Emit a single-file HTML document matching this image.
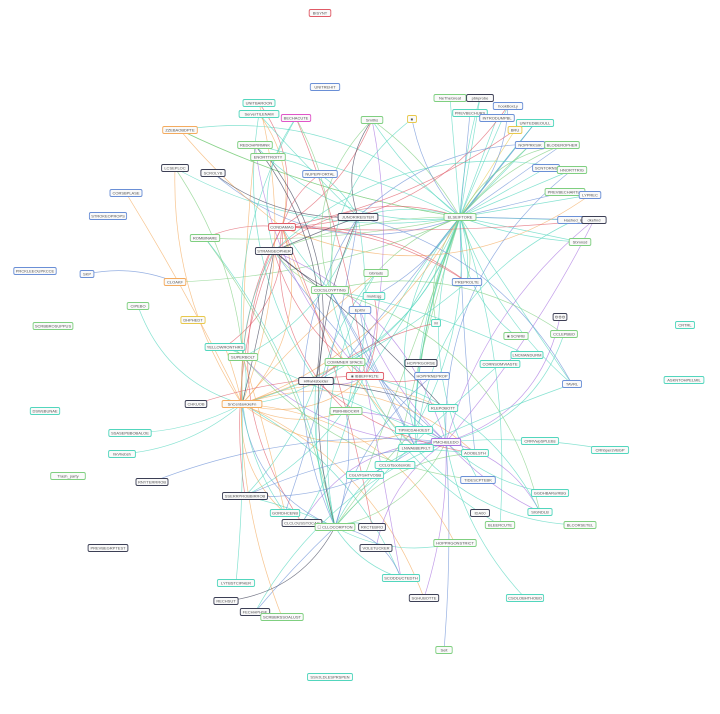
<!DOCTYPE html>
<html><head><meta charset="utf-8"><style>
html,body{margin:0;padding:0;background:#fff;}
svg{display:block;}
text{font-family:"Liberation Sans",sans-serif;font-size:4px;}
</style></head><body>
<svg id="s" width="720" height="714" viewBox="0 0 720 714" xmlns="http://www.w3.org/2000/svg">
<g id="e" fill="none" stroke-width="0.7" stroke-opacity="0.7"></g>
<g id="n"></g>
</svg>
<script>
var C={r:"#e05a66",t:"#52d6bd",g:"#7fcf80",o:"#f4ab5e",p:"#a873e0",b:"#6a8fd6",d:"#3c3f55",y:"#e8c84a",m:"#e055c8"};
var N=[
[320,13,"BISYNT","r"],[325,87,"UNITREHIT","b"],[259,103,"UNITBAROON","t"],[259,114,"ServerTILENAM","t"],[296,118,"BECHACUTE","m"],[372,120,"Smiths","g"],[412,119,"■","y"],[450,98,"NeTheGreat","g"],[480,98,"pbkprobe","d"],[470,113,"PREVBECHURS","t"],[497,118,"INTRODUMPBL","b"],[508,106,"hookBoxLy","b"],[535,123,"UNITEDBEOULL","t"],[515,130,"BRU","y"],[530,145,"NOPPRKSIK","b"],[562,145,"BLODEROPHER","g"],[546,168,"SCNTORNS","b"],[572,170,"HNORTTRIG","g"],[565,192,"PREVBECHARTLE","g"],[590,195,"LYPREC","b"],[575,220,"Hashed_lgtd","b"],[594,220,"dkefind","d"],[580,242,"Sbmnsd","g"],[460,217,"ELSEIFTORE","g"],
[180,130,"ZZEBAOBDPTE","o"],[255,145,"REDOHPIRMNK","g"],[268,157,"ENORTTROITY","g"],[320,174,"NUPEPFORTAL","b"],[213,173,"SCROLYB","d"],[175,168,"LCSEPLOC","d"],[126,193,"CORSBPLASE","b"],[108,216,"STROKEOPROPS","b"],[282,227,"CONDAMAG","r"],[358,217,"JUNORIREISTER","d"],[205,238,"ROMBINARE","g"],[274,251,"STRANGEOPHER","d"],[35,271,"PRCKLEEOUPKCCE","b"],[87,274,"SKP","b"],[175,282,"CLOAKF","o"],[330,290,"COCSLOYPTING","g"],[376,273,"Gbrlads","g"],[374,296,"mukEqg","t"],[360,310,"Epithr","b"],[467,282,"PREPROLTE","b"],[138,306,"CIPEBO","g"],[193,320,"DHPHEDT","y"],[53,326,"SCRBBROSUPPUS","g"],[436,323,"M","t"],[516,336,"■ SCNRB","g"],[560,317,"⚙⚙⚙","d"],[564,334,"CCLEPBBO","g"],[225,347,"YELLOWRONTHRS","t"],[243,357,"SUPERBOLT","g"],[345,362,"COMMNER SPACE","g"],[421,363,"HCPPRGORSE","d"],[500,364,"CORNSOMVIASTE","t"],[527,355,"LNCMANDURM","t"],[572,384,"TAVRL","b"],[685,325,"CRTRL","t"],[684,380,"ASKNTOHPELMIL","t"],[432,376,"HOPPRNEPROP","b"],[316,381,"HRwHsbelder","d"],[365,376,"■ IBBEFFRLTE","r"],[196,404,"CHKUOB","d"],[242,404,"SnCerdaHoleFn","o"],[346,411,"PBRHIBOCKR","g"],[443,408,"RLEPOBOTT","t"],[45,411,"DSWsBUNAE","t"],[130,433,"SSASEPBBOBALOE","t"],[122,454,"hkVhebsh","t"],[414,430,"TIPMCDAHOEST","t"],[446,442,"PMCHBLEDO","p"],[416,448,"LNWAB8EPKLT","t"],[540,441,"CRRVwpSPLEBs","t"],[610,450,"CRhbpersVBGP","t"],[395,465,"CCLGTsoobsnGE","t"],[365,475,"CGLVFSHTVOSB","t"],[475,453,"AOOBLSTH","t"],[68,476,"Trash_party","g"],[152,482,"RNYTERRROB","d"],[550,493,"GGDHBARorRBG","t"],[478,480,"TIDESCPTEBK","b"],[540,512,"SIGNDLB","t"],[245,496,"SSERRPROBBIRROB","d"],[285,513,"GORDHCENB","t"],[480,513,"IDA00","d"],[500,525,"BLEERCUTE","g"],[580,525,"BLCORSETEL","g"],[302,523,"CLCLOUSSTOCAG","d"],[335,527,"☐ CLLOCORPTON","g"],[372,527,"RKCTEBRO","d"],[376,548,"VOLETUCKER","d"],[455,543,"HOPPRGONSTRICT","g"],[108,548,"PREVBEGRPTEST","d"],[401,578,"SCODDUCTEDTH","t"],[525,598,"CSOLOBHTHOBO","t"],[236,583,"LYTBSTCIPHER","t"],[226,601,"RECHSUT","d"],[255,612,"FECHHPHSE","d"],[282,617,"SCRBBRSSOALUST","g"],[424,598,"SGHUBOTTE","d"],[444,650,"Seit","g"],[330,677,"SSVJLDLESPRSPEN","t"]
];
var ISO={"BISYNT":1,"PRCKLEEOUPKCCE":1,"DSWsBUNAE":1,"Trash_party":1,"PREVBEGRPTEST":1,"CRTRL":1,"ASKNTOHPELMIL":1,"SSVJLDLESPRSPEN":1,"SCRBBROSUPPUS":1,"RNYTERRROB":1,"SSASEPBBOBALOE":1,"hkVhebsh":1,"CRhbpersVBGP":1,"CSOLOBHTHOBO":1,"LYTBSTCIPHER":1,"RECHSUT":1,"SKP":1};
var seed=7;function rnd(){seed=(seed*16807)%2147483647;return seed/2147483647;}
var idx={};N.forEach(function(n,i){idx[n[2]]=i;});
var hubs=[["ELSEIFTORE",["t","g","t","b","t","g"],45],["CONDAMAG",["r","r","o","r"],18],["SnCerdaHoleFn",["o","o","t","o"],22],["PMCHBLEDO",["p","p","b","t"],22],["☐ CLLOCORPTON",["t","b","t","g"],18],["■ IBBEFFRLTE",["r","t","p"],12],["JUNORIREISTER",["b","d","t"],10],["STRANGEOPHER",["d","r","t"],10],["COCSLOYPTING",["t","g"],10],["HRwHsbelder",["d","t","r"],8],["SUPERBOLT",["g","t","o"],8],["LNWAB8EPKLT",["t","b"],8]];
var E=document.getElementById("e"),s="";
function edge(a,b,col){var x1=N[a][0],y1=N[a][1],x2=N[b][0],y2=N[b][1];var dx=x2-x1,dy=y2-y1;var k=(rnd()-0.5)*0.6;var mx=(x1+x2)/2-dy*k,my=(y1+y2)/2+dx*k;s+='<path d="M'+x1+' '+y1+'Q'+mx.toFixed(1)+' '+my.toFixed(1)+' '+x2+' '+y2+'" stroke="'+C[col]+'"/>';}
for(var i=7;i<23;i++){var a=idx["ELSEIFTORE"];s+='<line x1="'+N[a][0]+'" y1="'+N[a][1]+'" x2="'+N[i][0]+'" y2="'+N[i][1]+'" stroke="'+C[N[i][3]=="y"?"y":(i%3?"t":"b")]+'"/>';}
hubs.forEach(function(h){var a=idx[h[0]];for(var j=0;j<h[2];j++){var b;var tries=0;do{b=Math.floor(rnd()*N.length);tries++;}while((b==a||ISO[N[b][2]]||Math.hypot(N[b][0]-N[a][0],N[b][1]-N[a][1])>320||N[b][0]>640)&&tries<80);edge(a,b,h[1][j%h[1].length]);}});
// a few edges for some peripheral nodes
[["SKP","CLOAKF","b"],["SSASEPBBOBALOE","SnCerdaHoleFn","t"],["hkVhebsh","SnCerdaHoleFn","t"],["RNYTERRROB","PMCHBLEDO","b"],["CSOLOBHTHOBO","PMCHBLEDO","t"],["CRhbpersVBGP","PMCHBLEDO","t"],["LYTBSTCIPHER","SnCerdaHoleFn","t"],["RECHSUT","☐ CLLOCORPTON","d"]].forEach(function(q){edge(idx[q[0]],idx[q[1]],q[2]);});
E.innerHTML=s;
var G=document.getElementById("n"),t="";
N.forEach(function(n){var w=n[2].length*2.6+6;if(w<9)w=9;var h=7;t+='<rect x="'+(n[0]-w/2).toFixed(1)+'" y="'+(n[1]-h/2)+'" width="'+w.toFixed(1)+'" height="'+h+'" rx="1.5" fill="#fafafa" stroke="'+C[n[3]]+'" stroke-width="0.9"/><text x="'+n[0]+'" y="'+(n[1]+1.4)+'" text-anchor="middle" fill="#555">'+n[2]+'</text>';});
G.innerHTML=t;
</script>
</body></html>
